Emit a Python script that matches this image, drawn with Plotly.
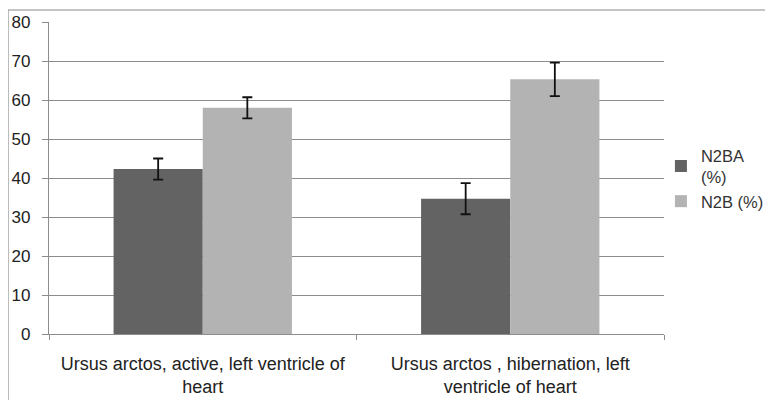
import plotly.graph_objects as go

categories = ["Ursus arctos, active, left ventricle of<br>heart",
              "Ursus arctos , hibernation, left<br>ventricle of heart"]
n2ba_values = [42.3, 34.7]
n2ba_errors = [2.7, 4.0]
n2b_values = [58.0, 65.3]
n2b_errors = [2.7, 4.3]
y_ticks = [0, 10, 20, 30, 40, 50, 60, 70, 80]

FONT = "Arial, Liberation Sans, sans-serif"

fig = go.Figure()
fig.add_trace(go.Bar(
    x=categories, y=n2ba_values, name="N2BA<br>(%)",
    marker=dict(color="#636363", line=dict(width=0)),
    error_y=dict(type="data", array=n2ba_errors, color="#111111", thickness=1.8, width=5),
))
fig.add_trace(go.Bar(
    x=categories, y=n2b_values, name="N2B (%)",
    marker=dict(color="#b3b3b3", line=dict(width=0)),
    error_y=dict(type="data", array=n2b_errors, color="#111111", thickness=1.8, width=5),
))

# page body adds an 8px offset; figure sized to fill the remaining window
fig.update_layout(
    width=765, height=392,
    margin=dict(l=41, r=109, t=14, b=66, autoexpand=False),
    paper_bgcolor="white", plot_bgcolor="white",
    barmode="group", bargap=0.42, bargroupgap=0,
    font=dict(family=FONT, size=16, color="#222222"),
    showlegend=True,
    legend=dict(x=0.995, y=0.628, xanchor="left", yanchor="top",
                font=dict(family=FONT, size=16.5, color="#333333"),
                bgcolor="rgba(0,0,0,0)"),
    shapes=[dict(type="rect", xref="paper", yref="paper",
                 x0=-0.0667, x1=1.185, y0=-0.25, y1=1.0385,
                 line=dict(color="#8a8a8a", width=1.2), layer="below")],
)
fig.update_yaxes(range=[0, 80], tickvals=y_ticks, showgrid=True, gridcolor="#8c8c8c", gridwidth=1.2,
                 showline=True, linecolor="#8c8c8c", linewidth=1.2, ticks="outside", ticklen=6,
                 tickcolor="#8c8c8c", zeroline=False, ticklabelstandoff=8,
                 tickfont=dict(family=FONT, size=17, color="#222222"))
fig.update_xaxes(showline=True, linecolor="#8c8c8c", linewidth=1.2, ticks="outside", ticklen=5,
                 tickcolor="#8c8c8c", tickson="boundaries", ticklabelstandoff=13,
                 tickfont=dict(family=FONT, size=18, color="#222222"))

fig.write_html("out.html")
